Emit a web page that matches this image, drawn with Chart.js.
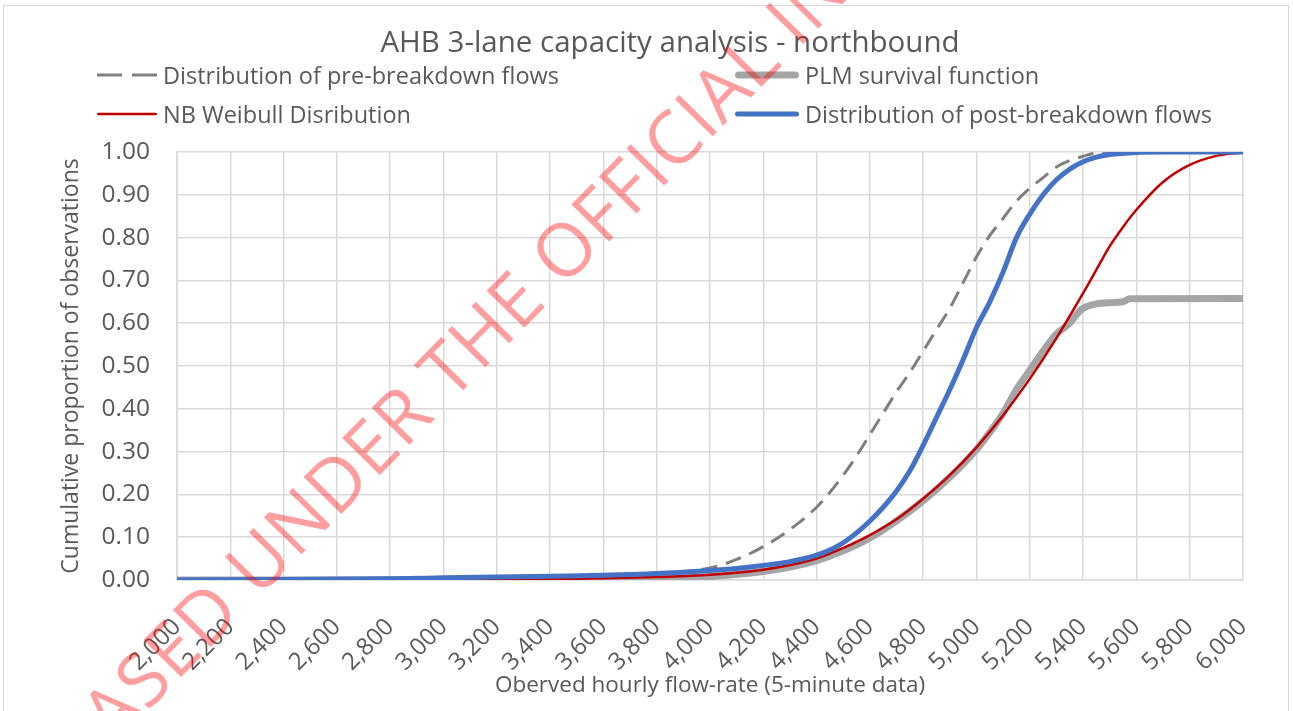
<!DOCTYPE html>
<html>
<head>
<meta charset="utf-8">
<script src="https://cdn.jsdelivr.net/npm/chart.js@4.4.1/dist/chart.umd.min.js"></script>
<style>
  html, body { margin: 0; padding: 0; background: #fff; }
  body { width: 1293px; height: 711px; position: relative; overflow: hidden; font-family: 'Open Sans', sans-serif; color: #595959; }
  #frame { position: absolute; left: 3px; top: 5px; width: 1286px; height: 730px; border: 1px solid #d9d9d9; box-sizing: border-box; }
  #chart { position: absolute; left: 0; top: 0; }
  #title { position: absolute; left: 670px; top: 40px; transform: translate(-50%, -50%); font-size: 29.5px; white-space: nowrap; }
  .leg { position: absolute; display: flex; align-items: center; font-size: 23.5px; white-space: nowrap; transform: translateY(-50%); }
  .leg svg { margin-right: 6px; }
  #wm { position: absolute; left: 612px; top: 198px; transform: translate(-50%, -50%) rotate(-45.5deg);
        font-size: 74px; color: rgba(255, 0, 0, 0.38); white-space: nowrap; pointer-events: none; letter-spacing: 1px; }
</style>
</head>
<body>
<div id="frame"></div>
<canvas id="chart" width="1293" height="711"></canvas>
<div id="title">AHB 3-lane capacity analysis - northbound</div>
<div id="legend"></div>
<div id="wm">RELEASED UNDER THE OFFICIAL INFORMATION ACT</div>
<script>
// Подписи осей
const xTicks = ['2,000', '2,200', '2,400', '2,600', '2,800', '3,000', '3,200', '3,400', '3,600', '3,800',
                '4,000', '4,200', '4,400', '4,600', '4,800', '5,000', '5,200', '5,400', '5,600', '5,800', '6,000'];
const yTicks = ['0.00', '0.10', '0.20', '0.30', '0.40', '0.50', '0.60', '0.70', '0.80', '0.90', '1.00'];

// Distribution of pre-breakdown flows
const preFlow = [2000, 2800, 3400, 3800, 4000, 4100, 4200, 4300, 4400, 4450, 4500, 4550, 4600, 4650, 4700,
                 4750, 4800, 4850, 4900, 4950, 5000, 5050, 5100, 5150, 5200, 5250, 5300, 5350, 5400, 5450, 5500, 6000];
const preValues = [0, 0.003, 0.008, 0.015, 0.028, 0.048, 0.078, 0.118, 0.17, 0.205, 0.245, 0.29, 0.34, 0.39, 0.44,
                   0.485, 0.535, 0.585, 0.635, 0.695, 0.755, 0.805, 0.845, 0.885, 0.915, 0.94, 0.965, 0.98, 0.99, 0.998, 1.0, 1.0];

// PLM survival function
const plmFlow = [2000, 3400, 3800, 4000, 4200, 4300, 4400, 4500, 4600, 4700, 4800, 4900, 5000, 5050, 5100, 5150,
                 5200, 5250, 5300, 5350, 5375, 5400, 5450, 5500, 5550, 5575, 6000];
const plmValues = [0, 0.001, 0.003, 0.008, 0.02, 0.03, 0.045, 0.068, 0.098, 0.138, 0.185, 0.24, 0.305, 0.345, 0.39, 0.445,
                   0.49, 0.535, 0.575, 0.6, 0.62, 0.635, 0.645, 0.648, 0.65, 0.657, 0.658];

// NB Weibull Disribution
const weibullFlow = [2000, 3000, 3200, 3400, 3600, 3800, 4000, 4200, 4300, 4400, 4500, 4600, 4700, 4800, 4900, 5000,
                     5100, 5200, 5300, 5400, 5450, 5500, 5550, 5600, 5700, 5800, 5900, 6000];
const weibullValues = [0, 0.0005, 0.001, 0.002, 0.004, 0.007, 0.012, 0.024, 0.035, 0.05, 0.075, 0.105, 0.142, 0.19, 0.245, 0.31,
                       0.385, 0.47, 0.565, 0.67, 0.725, 0.78, 0.825, 0.865, 0.93, 0.97, 0.991, 0.999];

// Distribution of post-breakdown flows
const postFlow = [2000, 2400, 2800, 3000, 3200, 3400, 3600, 3800, 4000, 4100, 4200, 4300, 4400, 4450, 4500, 4550, 4600,
                  4650, 4700, 4750, 4800, 4850, 4900, 4950, 5000, 5050, 5100, 5150, 5200, 5250, 5300, 5350, 5400, 5450,
                  5500, 5600, 5700, 6000];
const postValues = [0, 0.001, 0.003, 0.005, 0.007, 0.009, 0.011, 0.015, 0.022, 0.027, 0.034, 0.043, 0.058, 0.07, 0.087, 0.11, 0.138,
                    0.17, 0.208, 0.255, 0.315, 0.38, 0.445, 0.515, 0.59, 0.65, 0.72, 0.8, 0.855, 0.9, 0.935, 0.96, 0.977, 0.988,
                    0.994, 0.999, 1.0, 1.0];

const pts = (xs, ys) => xs.map((x, i) => ({ x: x, y: ys[i] }));

const series = [
  { label: 'Distribution of pre-breakdown flows', data: pts(preFlow, preValues), borderColor: '#7f7f7f', borderWidth: 3, borderDash: [16, 9], order: 1 },
  { label: 'PLM survival function', data: pts(plmFlow, plmValues), borderColor: '#a5a5a5', borderWidth: 7, order: 3 },
  { label: 'NB Weibull Disribution', data: pts(weibullFlow, weibullValues), borderColor: '#c00000', borderWidth: 2.5, order: 2 },
  { label: 'Distribution of post-breakdown flows', data: pts(postFlow, postValues), borderColor: '#4472c4', borderWidth: 5, order: 0 }
];

// легенда в две колонки, как в Excel
const legendPos = [[97, 75], [735, 75], [97, 114], [735, 114]];
const legendBox = document.getElementById('legend');
series.forEach((s, i) => {
  const item = document.createElement('div');
  item.className = 'leg';
  item.style.left = legendPos[i][0] + 'px';
  item.style.top = legendPos[i][1] + 'px';
  const w = i % 2 === 0 ? 60 : 64;
  const round = !s.borderDash;
  const inset = round ? s.borderWidth / 2 : 0;
  const dash = s.borderDash ? ' stroke-dasharray="25 10"' : '';
  item.innerHTML = '<svg width="' + w + '" height="12"><line x1="' + inset + '" y1="6" x2="' + (w - inset) +
    '" y2="6" stroke="' + s.borderColor + '" stroke-width="' + s.borderWidth +
    '" stroke-linecap="' + (round ? 'round' : 'butt') + '"' + dash + '/></svg><span>' + s.label + '</span>';
  legendBox.appendChild(item);
});

Chart.defaults.font.family = "'Open Sans', sans-serif";
Chart.defaults.color = '#595959';

const ctx = document.getElementById('chart').getContext('2d');
const chart = new Chart(ctx, {
  type: 'line',
  data: {
    datasets: series.map(s => Object.assign({ pointRadius: 0, fill: false, cubicInterpolationMode: 'monotone' }, s))
  },
  options: {
    responsive: false,
    animation: false,
    layout: { padding: { top: 152, right: 50, bottom: 0, left: 0 } },
    plugins: { legend: { display: false }, title: { display: false }, tooltip: { enabled: false } },
    scales: {
      x: {
        type: 'linear',
        min: 2000,
        max: 6000,
        // фиксируем область графика, чтобы повёрнутые подписи её не сжимали
        afterFit: scale => { scale.height = 131; scale.paddingLeft = 0; scale.paddingRight = 0; },
        afterBuildTicks: scale => { scale.ticks = xTicks.map((t, i) => ({ value: 2000 + i * 200 })); },
        ticks: {
          autoSkip: false,
          minRotation: 45,
          maxRotation: 45,
          padding: 33,
          font: { size: 24 },
          callback: (v, i) => xTicks[i]
        },
        grid: { color: '#d9d9d9', lineWidth: 1.5, drawTicks: false },
        border: { color: '#d9d9d9', width: 1.5 },
        title: { display: true, text: 'Oberved hourly flow-rate (5-minute data)', font: { size: 22.5 }, padding: { top: 0, bottom: 12 } }
      },
      y: {
        min: 0,
        max: 1,
        afterFit: scale => { scale.width = 177; },
        afterBuildTicks: scale => { scale.ticks = yTicks.map((t, i) => ({ value: i / 10 })); },
        ticks: {
          padding: 27,
          font: { size: 24.5 },
          callback: (v, i) => yTicks[i]
        },
        grid: { color: '#d9d9d9', lineWidth: 1.5, drawTicks: false },
        border: { color: '#d9d9d9', width: 1.5 },
        title: { display: true, text: 'Cumulative proportion of observations', font: { size: 23 }, padding: { top: 58, bottom: 0 } }
      }
    }
  }
});
</script>
</body>
</html>
